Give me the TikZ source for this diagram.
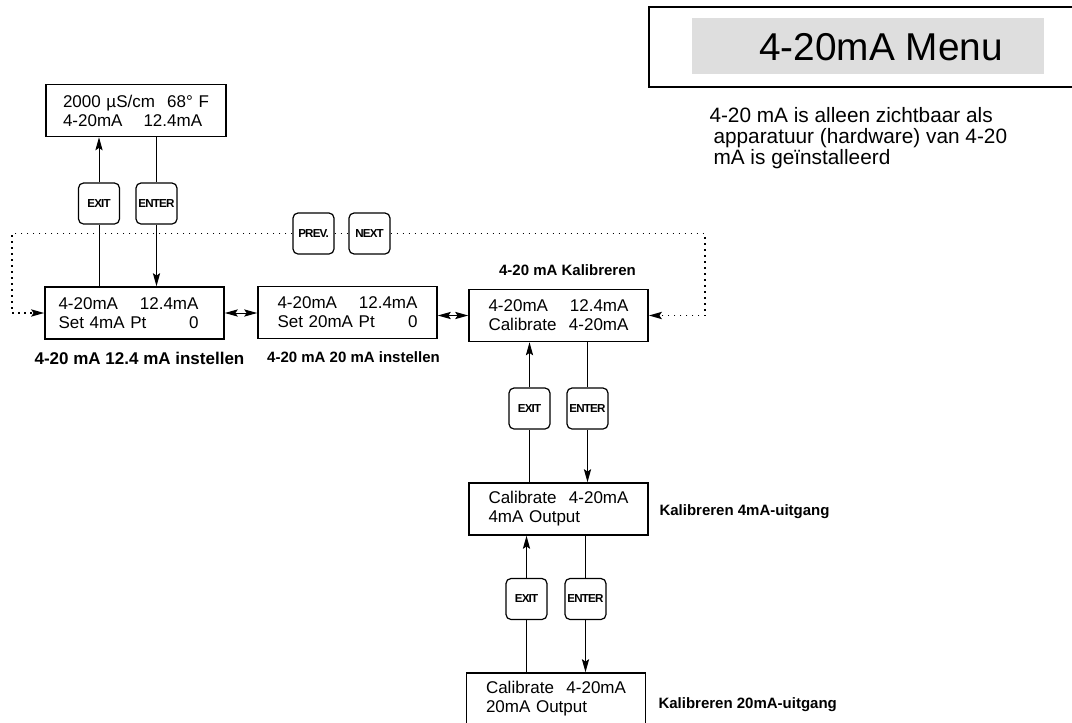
\documentclass[tikz,border=0pt]{standalone}
\usepackage{fontspec}
\setmainfont{Liberation Sans}
\newfontfamily\keyfont[LetterSpace=-7]{Liberation Sans}
\usepackage{tikz}
\usetikzlibrary{arrows.meta}
\tikzset{>={Stealth[width=3.6pt,length=6.5pt,inset=1.2pt]}}
\tikzset{
  lcd/.style={draw=black, line width=0.8pt, fill=white, minimum width=89.5pt, minimum height=26pt,
    inner sep=0pt, text width=70pt, align=left, font=\fontsize{8.5}{9.5}\selectfont},
  key/.style={draw=black, line width=0.6pt, fill=white, rounded corners=2.5pt, minimum width=20.5pt,
    minimum height=20.5pt, inner sep=0pt, font=\keyfont\bfseries\fontsize{5.8}{6}\selectfont},
  caption/.style={inner sep=0pt, font=\bfseries\fontsize{7.5}{9}\selectfont},
  menuloop/.style={line width=0.9pt, dash pattern=on 0.9pt off 2.1pt},
}

\begin{document}
\begin{tikzpicture}[x=0.5pt, y=-0.5pt, line width=0.5pt]
    \useasboundingbox (0,0) rectangle (1072,723);

    \node[draw=black, line width=0.8pt, minimum width=213pt, minimum height=40pt, inner sep=0pt] (menubox) at (862,47) {};
    \node[fill=black!13, minimum width=176pt, minimum height=28pt, inner sep=0pt] (menuband) at (868,46) {};
    \node[inner sep=0pt, font=\fontsize{19.4}{22}\selectfont] (menutitle) at (881,47.5) {4-20mA Menu};
    \node[anchor=west, align=left, inner sep=0pt, font=\fontsize{10.4}{10.6}\selectfont] (note) at (709,138)
      {4-20 mA is alleen zichtbaar als\\\hspace*{2pt}apparatuur (hardware) van 4-20\\\hspace*{2pt}mA is geïnstalleerd};

    \node[lcd, minimum width=90pt, text width=73pt] (status) at (136,110.5) {2000 µS/cm\hfill 68° F\\4-20mA\hspace{10.5pt}12.4mA};
    \node[lcd, text width=76pt] (setfour) at (134.5,313) {4-20mA\hfill 12.4mA\makebox[6pt]{}\\Set 4mA Pt\hfill 0\makebox[6pt]{}};
    \node[lcd] (settwenty) at (347.5,312.5) {4-20mA\hfill 12.4mA\\Set 20mA Pt\hfill 0};
    \node[lcd] (calib) at (558.5,315.5) {4-20mA\hfill 12.4mA\\Calibrate\hfill 4-20mA};
    \node[lcd] (calfour) at (558.5,509) {Calibrate\hfill 4-20mA\\4mA Output};
    \node[lcd] (caltwenty) at (556,699) {Calibrate\hfill 4-20mA\\20mA Output};

    \node[key] (exitA) at (99,203.5) {EXIT};
    \node[key] (enterA) at (156.5,203.5) {ENTER};
    \node[key] (prev) at (313.5,233.5) {PREV.};
    \node[key] (next) at (369.5,233.5) {NEXT};
    \node[key] (exitB) at (529.5,408.5) {EXIT};
    \node[key] (enterB) at (587.5,408.5) {ENTER};
    \node[key] (exitC) at (526.5,599) {EXIT};
    \node[key] (enterC) at (585.5,599) {ENTER};

    \node[caption, font=\bfseries\fontsize{8.5}{10}\selectfont] (setfourcap) at (139.5,358) {4-20 mA 12.4 mA instellen};
    \node[caption] (settwentycap) at (353.5,357) {4-20 mA 20 mA instellen};
    \node[caption] (calibcap) at (567.5,270) {4-20 mA Kalibreren};
    \node[caption, anchor=west] (calfourcap) at (659,511.5) {Kalibreren 4mA-uitgang};
    \node[caption, anchor=west] (caltwentycap) at (658,704.5) {Kalibreren 20mA-uitgang};

    \draw[->] (exitA) -- (exitA |- status.south);
    \draw (setfour.north -| exitA) -- (exitA);
    \draw (status.south -| enterA) -- (enterA);
    \draw[->] (enterA) -- (enterA |- setfour.north);

    \draw[->] (exitB) -- (exitB |- calib.south);
    \draw (calfour.north -| exitB) -- (exitB);
    \draw (calib.south -| enterB) -- (enterB);
    \draw[->] (enterB) -- (enterB |- calfour.north);

    \draw[->] (exitC) -- (exitC |- calfour.south);
    \draw (caltwenty.north -| exitC) -- (exitC);
    \draw (calfour.south -| enterC) -- (enterC);
    \draw[->] (enterC) -- (enterC |- caltwenty.north);

    \draw[<->] (setfour.east) -- (setfour.east -| settwenty.west);
    \draw[<->] (calib.west -| settwenty.east) -- (calib.west);

    \coordinate (loopL) at (12,234);
    \coordinate (loopR) at (705,234);
    \draw[menuloop, ->] (prev.west) -| (loopL) |- (setfour.west);
    \draw[menuloop] (prev.east) -- (next.west);
    \draw[menuloop, ->] (next.east) -| (loopR) |- (calib.east);
\end{tikzpicture}
\end{document}
